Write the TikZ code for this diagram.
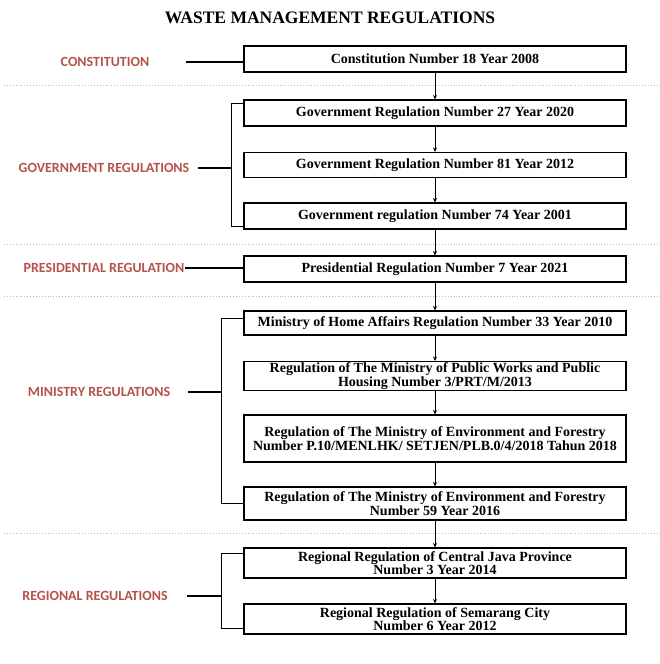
\documentclass[tikz,border=0pt]{standalone}
\usepackage{fontspec}
\setmainfont{Liberation Serif}
\newfontfamily\labfont{Carlito}
\usetikzlibrary{arrows.meta,calc}
\definecolor{labred}{HTML}{B5524A}
\definecolor{dotred}{HTML}{E8A89C}
\begin{document}
\begin{tikzpicture}[x=1pt,y=-1pt,
  box/.style={draw, line width=1.1pt, minimum width=382pt, inner sep=0pt, align=center,
    font=\bfseries\fontsize{14}{13.5}\selectfont},
  lab/.style={text=labred, font=\labfont\bfseries\fontsize{14}{15}\selectfont, inner sep=0pt},
  arr/.style={-{Stealth[length=4.5pt,width=4pt]}, line width=0.8pt},
  conn/.style={line width=1.1pt},
  sep/.style={dotred, line width=0.9pt, dotted}]
\useasboundingbox (0,0) rectangle (659,664);
\node[font=\bfseries\fontsize{17.5}{18}\selectfont] (title) at (330,18) {WASTE MANAGEMENT REGULATIONS};

\node[box, minimum height=26pt] (b1) at (435,59) {Constitution Number 18 Year 2008};
\node[box, minimum height=26pt] (b2) at (435,113) {Government Regulation Number 27 Year 2020};
\node[box, minimum height=25pt] (b3) at (435,165) {Government Regulation Number 81 Year 2012};
\node[box, minimum height=26pt] (b4) at (435,216) {Government regulation Number 74 Year 2001};
\node[box, minimum height=26pt] (b5) at (435,269) {Presidential Regulation Number 7 Year 2021};
\node[box, minimum height=24pt] (b6) at (435,323) {Ministry of Home Affairs Regulation Number 33 Year 2010};
\node[box, minimum height=29pt] (b7) at (435,376) {Regulation of The Ministry of Public Works and Public\\Housing Number 3/PRT/M/2013};
\node[box, minimum height=47pt] (b8) at (435,438.5) {Regulation of The Ministry of Environment and Forestry\\Number P.10/MENLHK/ SETJEN/PLB.0/4/2018 Tahun 2018};
\node[box, minimum height=33pt] (b9) at (435,503.5) {Regulation of The Ministry of Environment and Forestry\\Number 59 Year 2016};
\node[box, minimum height=30pt] (b10) at (435,563) {Regional Regulation of Central Java Province\\Number 3 Year 2014};
\node[box, minimum height=30pt] (b11) at (435,619) {Regional Regulation of Semarang City\\Number 6 Year 2012};

\foreach \a/\b in {b1/b2,b2/b3,b3/b4,b4/b5,b5/b6,b6/b7,b7/b8,b8/b9,b9/b10,b10/b11}
  \draw[arr] (\a.south) -- (\b.north);

\foreach \y in {85,244,296,533}
  \draw[sep] (4,\y) -- (659,\y);

\node[lab] (l1) at (105,62) {CONSTITUTION};
\node[lab] (l2) at (104,168) {GOVERNMENT REGULATIONS};
\node[lab] (l3) at (104,268) {PRESIDENTIAL REGULATION};
\node[lab] (l4) at (99,392) {MINISTRY REGULATIONS};
\node[lab] (l5) at (95,596) {REGIONAL REGULATIONS};

\coordinate (c1) at (186,62);
\draw[conn] (c1) -- (c1 -| b1.west);
\coordinate (c2) at (198,168);
\draw[conn] (c2) -- ++(34,0);
\draw[conn] ($(b2.north west)+(0,4)$) -- ++(-12,0) |- ($(b4.south west)+(0,-3)$);
\draw[conn] (l3.east) -- (l3.east -| b5.west);
\coordinate (c4) at (188,392);
\draw[conn] (c4) -- ++(34,0);
\draw[conn] ($(b6.north west)+(0,8)$) -- ++(-22,0) |- (b9.west);
\coordinate (c5) at (187,596);
\draw[conn] (c5) -- ++(35,0);
\draw[conn] ($(b10.north west)+(0,6)$) -- ++(-22,0) |- ($(b11.south west)+(0,-6)$);
\end{tikzpicture}
\end{document}
